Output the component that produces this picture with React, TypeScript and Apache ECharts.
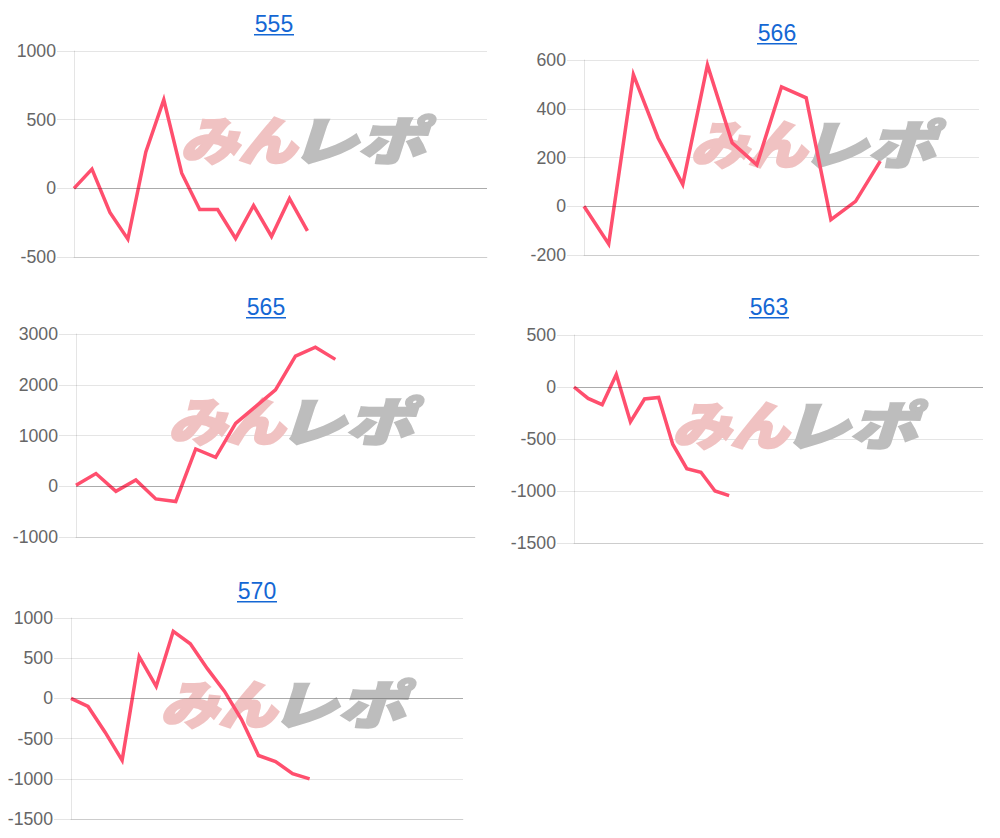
import React, { useEffect, useRef } from "react";
import * as echarts from "echarts";

const days17 = ["1","2","3","4","5","6","7","8","9","10","11","12","13","14","15","16","17"];
const days21 = ["1","2","3","4","5","6","7","8","9","10","11","12","13","14","15","16","17","18","19","20","21"];
const days24 = ["1","2","3","4","5","6","7","8","9","10","11","12","13","14","15","16","17","18","19","20","21","22","23","24"];
const days30 = ["1","2","3","4","5","6","7","8","9","10","11","12","13","14","15","16","17","18","19","20","21","22","23","24","25","26","27","28","29","30"];

const titles = ["555", "566", "565", "563", "570"];

const s555 = [0, 140, -175, -370, 265, 645, 110, -155, -155, -365, -125, -350, -75, -310];
const s566 = [0, -155, 540, 280, 90, 580, 260, 170, 490, 445, -55, 20, 185];
const s565 = [20, 250, -100, 125, -250, -300, 735, 570, 1240, 1570, 1900, 2565, 2740, 2500];
const s563 = [0, -110, -170, 120, -335, -115, -100, -550, -785, -820, -1000, -1045];
const s570 = [0, -100, -420, -770, 520, 150, 835, 680, 370, 90, -260, -710, -785, -935, -1000];

const yMin = [-500, -200, -1000, -1500, -1500];
const yMax = [1000, 600, 3000, 500, 1000];
const yStep = [500, 200, 1000, 500, 500];

const seriesData = [s555, s566, s565, s563, s570];
const cats = [days24, days17, days21, days30, days24];

// layout (pixels)
const grids = [
  { left: 74, top: 51, width: 413, height: 206 },
  { left: 584, top: 60, width: 395, height: 195 },
  { left: 76, top: 334, width: 399, height: 203 },
  { left: 574, top: 335, width: 409, height: 208 },
  { left: 71, top: 618, width: 392, height: 201 },
];
const titlePos = [
  [274, 32],
  [777, 41],
  [266, 315],
  [769, 315],
  [257, 599],
];
const markPos = [
  [180, 118],
  [690, 122],
  [168, 399],
  [672, 403],
  [160, 682],
];

const FONT = "'Liberation Sans', Arial, Helvetica, sans-serif";
const GRID_COLOR = "rgba(0,0,0,0.1)";
const LINE_COLOR = "#ff4f6e";
const TITLE_COLOR = "#1467d4";
const MARK_FONT = "italic 900 52px 'Noto Sans CJK JP', sans-serif";

export default function App() {
  const ref = useRef<HTMLDivElement>(null);
  useEffect(() => {
    if (!ref.current) return;
    const chart = echarts.init(ref.current, undefined, { renderer: "svg" });

    const graphics: any[] = [];
    titles.forEach((t, i) => {
      const [cx, by] = titlePos[i];
      graphics.push({
        type: "text",
        x: cx,
        y: by - 8,
        z: 5,
        style: {
          text: t,
          fill: TITLE_COLOR,
          font: `23px ${FONT}`,
          align: "center",
          verticalAlign: "middle",
          textAlign: "center",
          textVerticalAlign: "middle",
        },
      });
      graphics.push({
        type: "rect",
        z: 5,
        shape: { x: cx - 20, y: by + 2, width: 40, height: 1.6 },
        style: { fill: TITLE_COLOR },
      });
    });
    markPos.forEach(([mx, my]) => {
      graphics.push({
        type: "group",
        x: mx,
        y: my,
        z: 1,
        children: [
          {
            type: "text",
            x: 0,
            y: -7,
            z: 1,
            scaleX: 1.12,
            style: {
              text: "みん",
              fill: "#f0c2c2",
              stroke: "#f0c2c2",
              lineWidth: 2.5,
              font: MARK_FONT,
              align: "left",
              verticalAlign: "top",
              textAlign: "left",
              textVerticalAlign: "top",
            },
          },
          {
            type: "text",
            x: 110,
            y: -7,
            z: 1,
            scaleX: 1.3,
            style: {
              text: "レポ",
              fill: "#bdbdbd",
              stroke: "#bdbdbd",
              lineWidth: 2.5,
              font: MARK_FONT,
              align: "left",
              verticalAlign: "top",
              textAlign: "left",
              textVerticalAlign: "top",
            },
          },
        ],
      });
    });

    const option: any = {
      animation: false,
      backgroundColor: "#ffffff",
      grid: grids.map((g) => ({ ...g, containLabel: false })),
      xAxis: grids.map((_, i) => ({
        type: "category",
        gridIndex: i,
        data: cats[i],
        boundaryGap: false,
        axisLine: { show: true, onZero: false, lineStyle: { color: GRID_COLOR } },
        axisTick: { show: false },
        axisLabel: { show: false },
        splitLine: { show: false },
      })),
      yAxis: grids.map((_, i) => ({
        type: "value",
        gridIndex: i,
        min: yMin[i],
        max: yMax[i],
        interval: yStep[i],
        axisLine: { show: true, lineStyle: { color: GRID_COLOR } },
        axisTick: { show: true, length: 17, lineStyle: { color: GRID_COLOR } },
        axisLabel: {
          margin: 18,
          color: "#666",
          fontSize: 17.7,
          fontFamily: FONT,
          formatter: (v: number) => String(v),
        },
        splitLine: { show: true, lineStyle: { color: GRID_COLOR } },
      })),
      series: seriesData.map((d, i) => ({
        type: "line",
        xAxisIndex: i,
        yAxisIndex: i,
        data: d,
        symbol: "none",
        showSymbol: false,
        z: 3,
        lineStyle: { color: LINE_COLOR, width: 3.5, join: "miter" },
        markLine: {
          silent: true,
          symbol: "none",
          label: { show: false },
          lineStyle: { color: "rgba(0,0,0,0.25)", type: "solid", width: 1 },
          data: [{ yAxis: 0 }],
        },
      })),
      graphic: { elements: graphics },
    };
    chart.setOption(option);
    return () => chart.dispose();
  }, []);
  return (
    <div
      ref={ref}
      style={{ position: "absolute", left: 0, top: 0, width: 1000, height: 838, background: "#fff" }}
    />
  );
}
